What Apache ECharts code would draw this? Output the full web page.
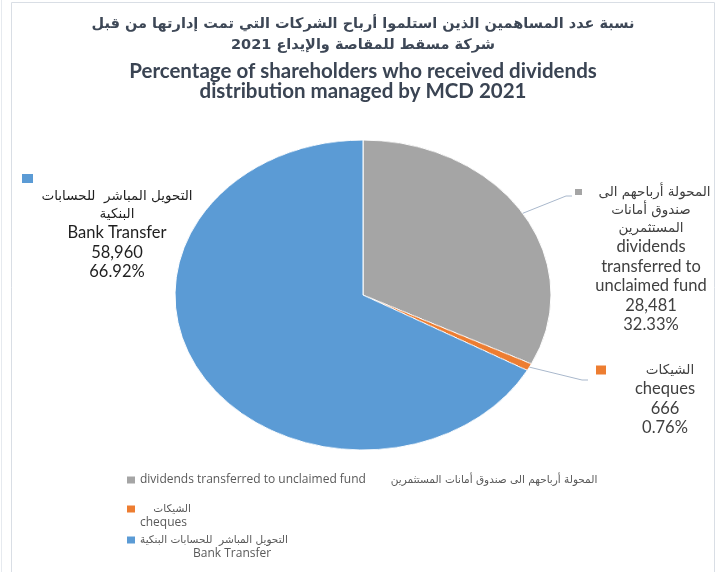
<!DOCTYPE html>
<html><head><meta charset="utf-8">
<script src="https://cdn.jsdelivr.net/npm/echarts@6/dist/echarts.min.js"></script>
<style>
html,body{margin:0;padding:0;background:#fff;}
#wrap{position:relative;width:726px;height:572px;overflow:hidden;background:#fff;}
#pie,#main{position:absolute;left:0;top:0;width:726px;height:572px;}
</style></head><body>
<div id="wrap"><div id="pie"></div><div id="main"></div></div>
<script>
// ---- data ----
const categoriesEn = ['dividends transferred to unclaimed fund', 'cheques', 'Bank Transfer'];
const categoriesAr = ['المحولة أرباحهم الى صندوق أمانات المستثمرين', 'الشيكات', 'التحويل المباشر  للحسابات البنكية'];
const values = [28481, 666, 58960];
const colors = ['#A5A5A5', '#ED7D31', '#5B9BD5'];
const labelArLines = [['المحولة أرباحهم الى', 'صندوق أمانات', 'المستثمرين'], ['الشيكات'], ['التحويل المباشر  للحسابات', 'البنكية']];
const labelEnLines = [['dividends', 'transferred to', 'unclaimed fund'], ['cheques'], ['Bank Transfer']];
const titleAr = ['نسبة عدد المساهمين الذين استلموا أرباح الشركات التي تمت إدارتها من قبل', 'شركة مسقط للمقاصة والإيداع 2021'];
const titleEn = ['Percentage of shareholders who received dividends', 'distribution managed by MCD 2021'];

// ---- layout ----
const PIE = {cx: 363, cy: 295, rx: 188, ry: 155};
const LABEL_BOX = [
  {x: 575, y: 183, width: 152, bend: [566, 196], end: [572, 196]},
  {x: 596, y: 361, width: 138, bend: [582, 380], end: [588, 380]},
  {x: 22, y: 170, width: 190}
];
const SQ = [{w: 7, h: 6}, {w: 10, h: 9}, {w: 11, h: 9}];
const LABEL_COLORS = ['#404040', '#404040', '#1f1f1f'];
const LEGEND_TOPS = [473, 488, 519];

const total = values.reduce((a, b) => a + b, 0);
const pct = values.map(v => (v / total * 100).toFixed(2) + '%');
const fmtNum = v => v.toLocaleString('en-US');
const midAngles = [];
(function () { let acc = 0; values.forEach(v => { midAngles.push((acc + v / 2) / total * 2 * Math.PI); acc += v; }); })();
function edgePoint(i) {
  const a = midAngles[i];
  return [PIE.cx + PIE.rx * Math.sin(a), PIE.cy - PIE.ry * Math.cos(a)];
}

// ---- pie (ellipse via vertical scaling of its own layer) ----
const pieDiv = document.getElementById('pie');
pieDiv.style.transform = 'scaleY(' + (PIE.ry / PIE.rx) + ')';
pieDiv.style.transformOrigin = '0 ' + PIE.cy + 'px';
const pieChart = echarts.init(pieDiv, null, {renderer: 'canvas'});
pieChart.setOption({
  animation: false,
  backgroundColor: 'transparent',
  series: [{
    type: 'pie', center: [PIE.cx, PIE.cy], radius: PIE.rx, startAngle: 90, clockwise: true,
    silent: true, label: {show: false}, labelLine: {show: false},
    itemStyle: {borderColor: '#ffffff', borderWidth: 1},
    data: values.map((v, i) => ({name: categoriesEn[i], value: v, itemStyle: {color: colors[i]}}))
  }]
});

// ---- overlay: titles, labels, legend ----
const rich = {
  ar: {fontFamily: 'DejaVu Sans', fontSize: 13.5, lineHeight: 18, align: 'center'},
  en: {fontFamily: 'Lato', fontSize: 16.5, lineHeight: 19.5, align: 'center'}
};
SQ.forEach((s, i) => {
  rich['sq' + i] = {width: s.w, height: s.h, lineHeight: 17, backgroundColor: colors[i], align: 'left'};
});
const legendRich = {
  en: {fontFamily: 'Open Sans', fontSize: 12, lineHeight: 14, color: '#595959'},
  ar: {fontFamily: 'DejaVu Sans', fontSize: 10.5, lineHeight: 14, color: '#595959'}
};

const mainChart = echarts.init(document.getElementById('main'), null, {renderer: 'canvas'});
mainChart.setOption({
  animation: false,
  backgroundColor: 'transparent',
  graphic: [
    {type: 'rect', silent: true, shape: {x: 11.5, y: 2.5, width: 703, height: 620}, style: {fill: 'none', stroke: '#d9dee5', lineWidth: 1}},
    {type: 'line', silent: true, shape: {x1: 1.5, y1: 0, x2: 1.5, y2: 572}, style: {stroke: '#e6eaef', lineWidth: 1}}
  ],
  title: [
    {text: titleAr.join('\n'), left: 'center', top: 9,
     textStyle: {fontFamily: 'DejaVu Sans', fontWeight: 'bold', fontSize: 14.5, lineHeight: 21, color: '#3d4756'}},
    {text: titleEn.join('\n'), left: 'center', top: 56,
     textStyle: {fontFamily: 'Lato', fontWeight: 'bold', fontSize: 20.5, lineHeight: 20, color: '#3a4453'}}
  ],
  legend: [0, 1, 2].map(i => ({
    data: [{name: categoriesEn[i], itemStyle: {color: colors[i], opacity: 1}}],
    left: 127, top: LEGEND_TOPS[i], padding: 0, icon: 'rect', itemWidth: 8, itemHeight: 7,
    selectedMode: false,
    textStyle: {fontFamily: 'Open Sans', fontSize: 12, lineHeight: 14, color: '#595959', rich: legendRich},
    formatter: function () {
      if (i === 0) return '{en|' + categoriesEn[0] + '}{en|        }{ar|' + categoriesAr[0] + '}';
      if (i === 1) return '{en| }\n{ar|    ' + categoriesAr[1] + '}\n{en|' + categoriesEn[1] + '}';
      return '{en| }\n{ar|' + categoriesAr[2] + '}\n{en|                 ' + categoriesEn[2] + '}';
    }
  })),
  series: [{
    type: 'pie', center: [PIE.cx, PIE.cy], radius: PIE.rx, startAngle: 90, clockwise: true,
    silent: true, avoidLabelOverlap: false,
    itemStyle: {color: 'rgba(0,0,0,0)', borderWidth: 0},
    emphasis: {disabled: true},
    label: {
      show: true, position: 'outside', rich: rich,
      formatter: function (p) {
        const i = p.dataIndex;
        const sq = '{sq' + i + '|}';
        const ar = labelArLines[i].map(s => '{ar|' + s + '}');
        const lines = [];
        if (i === 2) { lines.push(sq); ar.forEach(a => lines.push(a)); }
        else { lines.push(sq + ar[0]); ar.slice(1).forEach(a => lines.push(a)); }
        labelEnLines[i].forEach(s => lines.push('{en|' + s + '}'));
        lines.push('{en|' + fmtNum(values[i]) + '}');
        lines.push('{en|' + pct[i] + '}');
        return lines.join('\n');
      }
    },
    labelLine: {show: true, lineStyle: {color: '#a9b8cc', width: 1}},
    labelLayout: function (params) {
      const i = params.dataIndex;
      const b = LABEL_BOX[i];
      const out = {x: b.x, y: b.y, align: 'left', verticalAlign: 'top', width: b.width};
      if (b.bend) out.labelLinePoints = [edgePoint(i), b.bend, b.end];
      return out;
    },
    data: values.map((v, i) => ({
      name: categoriesEn[i], value: v,
      label: {color: LABEL_COLORS[i], width: LABEL_BOX[i].width},
      labelLine: {show: i !== 2}
    }))
  }]
});
</script>
</body></html>
